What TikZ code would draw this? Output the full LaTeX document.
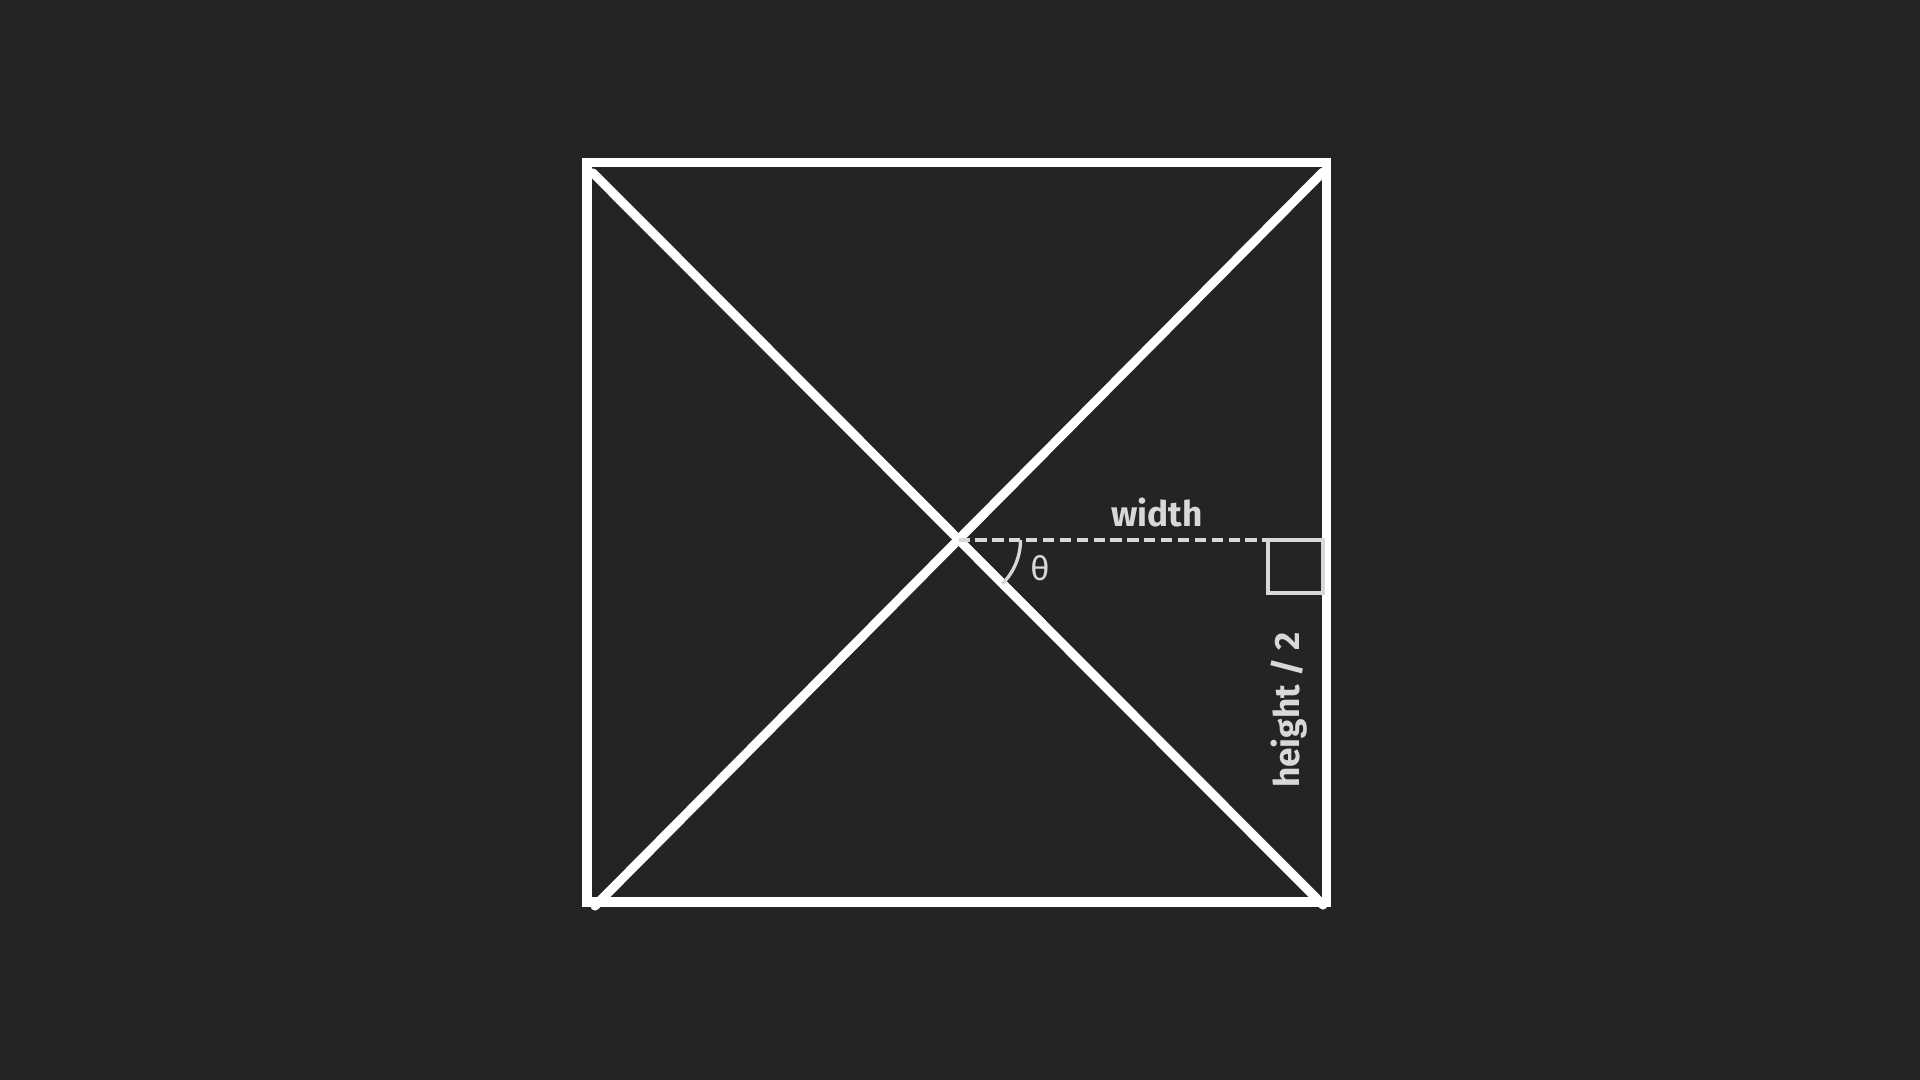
\documentclass[tikz,border=0pt]{standalone}
\usepackage{fontspec}
\setmainfont{Fira Sans}
\definecolor{board}{RGB}{37,35,36}
\definecolor{chalk}{RGB}{216,216,216}
\tikzset{
  edge/.style={white,line width=2.6pt},
  guide/.style={chalk,line width=0.95pt},
  lbl/.style={chalk,font=\fontsize{10}{12}\selectfont\bfseries,inner sep=0pt}
}
\begin{document}
\begin{tikzpicture}[x=0.01cm,y=-0.01cm]
  \fill[board] (0,0) rectangle (1920,1080);
  \useasboundingbox (0,0) rectangle (1920,1080);
  % square and diagonals
  \draw[edge] (587,162.5) rectangle (1326.5,902);
  \coordinate (A) at (593,173);
  \coordinate (B) at (1323,905);
  \coordinate (C) at (595,906);
  \coordinate (D) at (1323,172);
  \draw[edge,line cap=round] (A) -- (B);
  \draw[edge,line cap=round] (C) -- (D);
  \coordinate (O) at (958.5,540);
  \coordinate (E) at (1323,540);
  \draw[guide,dash pattern=on 3.2pt off 1.6pt] (O) -- (E);
  \draw[guide] (1268,540) rectangle (E |- 0,593);
  \draw[guide] (O) ++(45:62) arc[start angle=45,end angle=0,radius=62];
  \node[lbl] (w) at (1157,513) {width};
  \node[lbl,font=\fontsize{9.5}{11}\selectfont] (t) at (1040,568) {θ};
  \node[lbl,rotate=90] (h) at (1289,710) {height / 2};
\end{tikzpicture}
\end{document}
